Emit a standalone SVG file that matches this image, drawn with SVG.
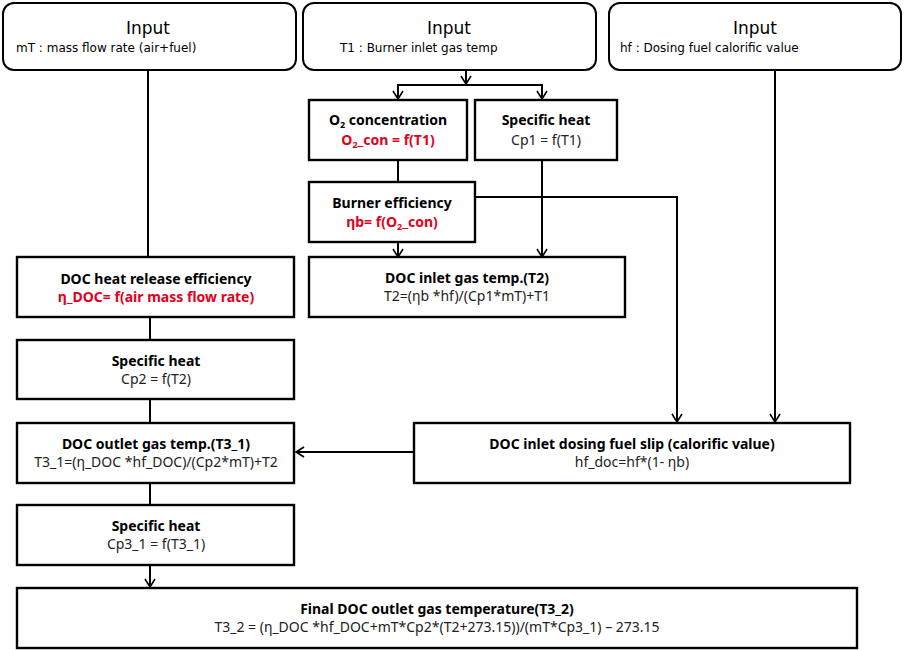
<svg xmlns="http://www.w3.org/2000/svg" width="904" height="650" viewBox="0 0 904 650">
<defs>
<marker id="arr" markerWidth="12" markerHeight="12" refX="10" refY="6" orient="auto" markerUnits="userSpaceOnUse">
<path d="M2,1 L10,6 L2,11" fill="none" stroke="#000" stroke-width="1.6"/>
</marker>
<style>
.rbox{fill:#fff;stroke:#000;stroke-width:2}
.box{fill:#fff;stroke:#000;stroke-width:2.4}
.ln{fill:none;stroke:#000;stroke-width:2}
.ttl{font-family:"DejaVu Sans","Liberation Sans",sans-serif;font-size:17px;text-anchor:middle;fill:#000}
.sub{font-family:"DejaVu Sans","Liberation Sans",sans-serif;font-size:12px;fill:#000}
.b{font-family:"Noto Sans","Liberation Sans",sans-serif;font-size:14px;font-weight:bold;text-anchor:middle;fill:#000}
.n{font-family:"Noto Sans","Liberation Sans",sans-serif;font-size:14px;text-anchor:middle;fill:#222}
.r{font-family:"Noto Sans","Liberation Sans",sans-serif;font-size:14px;font-weight:bold;text-anchor:middle;fill:#e3001b}
.s{font-size:9px}
</style>
</defs>
<rect width="904" height="650" fill="#fff"/>
<g id="connectors">
<line class="ln" x1="148" y1="70" x2="148" y2="257"/>
<line class="ln" x1="466" y1="70" x2="466" y2="84" marker-end="url(#arr)"/>
<polyline class="ln" points="398,99 398,85 542,85 542,99"/>
<line class="ln" x1="398" y1="86" x2="398" y2="99" marker-end="url(#arr)"/>
<line class="ln" x1="542" y1="86" x2="542" y2="99" marker-end="url(#arr)"/>
<line class="ln" x1="398" y1="160" x2="398" y2="182"/>
<line class="ln" x1="398" y1="242" x2="398" y2="257" marker-end="url(#arr)"/>
<line class="ln" x1="542" y1="160" x2="542" y2="257" marker-end="url(#arr)"/>
<polyline class="ln" points="475,197 677,197 677,422" marker-end="url(#arr)"/>
<line class="ln" x1="775" y1="70" x2="775" y2="422" marker-end="url(#arr)"/>
<line class="ln" x1="150" y1="317" x2="150" y2="340"/>
<line class="ln" x1="150" y1="399" x2="150" y2="423"/>
<line class="ln" x1="414" y1="452" x2="296" y2="452" marker-end="url(#arr)"/>
<line class="ln" x1="150" y1="483" x2="150" y2="505"/>
<line class="ln" x1="150" y1="565" x2="150" y2="587" marker-end="url(#arr)"/>
</g>
<g id="input1">
<rect class="rbox" x="3" y="3" width="293" height="67" rx="11"/>
<text class="ttl" x="148" y="34">Input</text>
<text class="sub" x="16" y="52">mT : mass flow rate (air+fuel)</text>
</g>
<g id="input2">
<rect class="rbox" x="303" y="3" width="293" height="67" rx="11"/>
<text class="ttl" x="449" y="34">Input</text>
<text class="sub" x="340" y="52">T1 : Burner inlet gas temp</text>
</g>
<g id="input3">
<rect class="rbox" x="609" y="3" width="292" height="67" rx="11"/>
<text class="ttl" x="755" y="34">Input</text>
<text class="sub" x="620" y="52">hf : Dosing fuel calorific value</text>
</g>
<g id="o2">
<rect class="box" x="309" y="100" width="158" height="60"/>
<text class="b" x="388" y="125">O<tspan class="s" dy="3">2</tspan><tspan dy="-3"> concentration</tspan></text>
<text class="r" x="388" y="145">O<tspan class="s" dy="3">2</tspan><tspan dy="-3">_con = f(T1)</tspan></text>
</g>
<g id="cp1">
<rect class="box" x="475" y="100" width="142" height="60"/>
<text class="b" x="546" y="125">Specific heat</text>
<text class="n" x="546" y="145">Cp1 = f(T1)</text>
</g>
<g id="burner">
<rect class="box" x="309" y="182" width="166" height="60"/>
<text class="b" x="392" y="208">Burner efficiency</text>
<text class="r" x="392" y="227">ηb= f(O<tspan class="s" dy="3">2</tspan><tspan dy="-3">_con)</tspan></text>
</g>
<g id="t2">
<rect class="box" x="309" y="257" width="316" height="60"/>
<text class="b" x="467" y="283">DOC inlet gas temp.(T2)</text>
<text class="n" x="467" y="301">T2=(ηb *hf)/(Cp1*mT)+T1</text>
</g>
<g id="doceff">
<rect class="box" x="17" y="257" width="277" height="60"/>
<text class="b" x="156" y="284">DOC heat release efficiency</text>
<text class="r" x="156" y="302">η_DOC= f(air mass flow rate)</text>
</g>
<g id="cp2">
<rect class="box" x="17" y="340" width="277" height="59"/>
<text class="b" x="156" y="366">Specific heat</text>
<text class="n" x="156" y="384">Cp2 =  f(T2)</text>
</g>
<g id="t31">
<rect class="box" x="17" y="423" width="277" height="60"/>
<text class="b" x="156" y="449">DOC outlet gas  temp.(T3_1)</text>
<text class="n" x="156" y="467">T3_1=(η_DOC *hf_DOC)/(Cp2*mT)+T2</text>
</g>
<g id="dosing">
<rect class="box" x="414" y="423" width="436" height="60"/>
<text class="b" x="632" y="449">DOC inlet dosing fuel slip (calorific value)</text>
<text class="n" x="632" y="467">hf_doc=hf*(1- ηb)</text>
</g>
<g id="cp3">
<rect class="box" x="17" y="505" width="277" height="60"/>
<text class="b" x="156" y="531">Specific heat</text>
<text class="n" x="156" y="549">Cp3_1 = f(T3_1)</text>
</g>
<g id="final">
<rect class="box" x="17" y="588" width="840" height="60"/>
<text class="b" x="437" y="614">Final DOC outlet gas temperature(T3_2)</text>
<text class="n" x="437" y="632">T3_2 =  (η_DOC *hf_DOC+mT*Cp2*(T2+273.15))/(mT*Cp3_1) – 273.15</text>
</g>
</svg>
